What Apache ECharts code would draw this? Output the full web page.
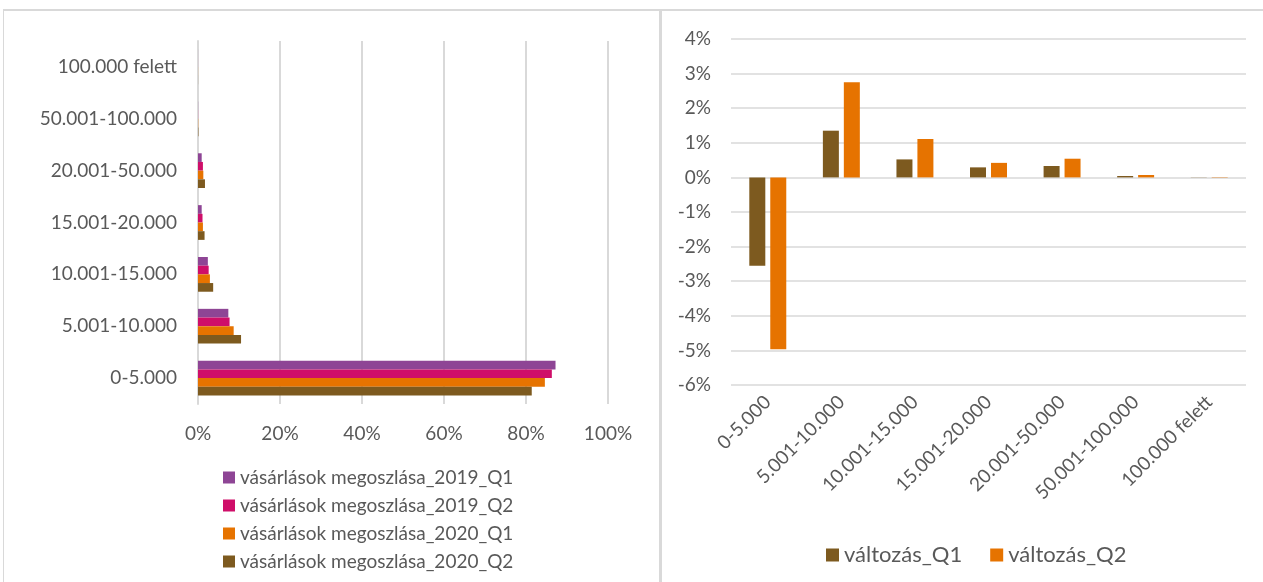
<!DOCTYPE html>
<html>
<head>
<meta charset="utf-8">
<script src="https://cdn.jsdelivr.net/npm/echarts@6/dist/echarts.min.js"></script>
<style>
  html, body { margin: 0; padding: 0; background: #fff; }
  #chart { width: 1263px; height: 582px; }
</style>
</head>
<body>
<div id="chart"></div>
<script>
// kategóriák (vásárlási érték sávok)
const categories = ['0-5.000', '5.001-10.000', '10.001-15.000', '15.001-20.000', '20.001-50.000', '50.001-100.000', '100.000 felett'];
// vásárlások megoszlása, %
const share2019Q1 = [87.2, 7.4, 2.4, 0.9, 0.9, 0.03, 0.01];
const share2019Q2 = [86.3, 7.7, 2.6, 1.1, 1.2, 0.03, 0.01];
const share2020Q1 = [84.6, 8.7, 2.9, 1.2, 1.3, 0.06, 0.02];
const share2020Q2 = [81.4, 10.5, 3.7, 1.6, 1.7, 0.1, 0.02];
// változás, százalékpont
const changeQ1 = [-2.55, 1.35, 0.52, 0.29, 0.33, 0.04, 0.005];
const changeQ2 = [-4.97, 2.75, 1.11, 0.42, 0.54, 0.07, 0.01];

const FONT = 'Lato';
const TXT = '#595959';
const GRID = '#d9d9d9';
const C_2019Q1 = '#8e4595', C_2019Q2 = '#cf0e69', C_2020Q1 = '#e67300', C_2020Q2 = '#7d5a1f';

const chart = echarts.init(document.getElementById('chart'));

// vízszintes oszlopoknál az első sorozat kerül felülre
const leftSeries = [
  { name: 'vásárlások megoszlása_2019_Q1', data: share2019Q1, color: C_2019Q1 },
  { name: 'vásárlások megoszlása_2019_Q2', data: share2019Q2, color: C_2019Q2 },
  { name: 'vásárlások megoszlása_2020_Q1', data: share2020Q1, color: C_2020Q1 },
  { name: 'vásárlások megoszlása_2020_Q2', data: share2020Q2, color: C_2020Q2 }
].map(s => ({
  type: 'bar', name: s.name, data: s.data,
  xAxisIndex: 0, yAxisIndex: 0,
  barGap: '0%', barCategoryGap: '33%',
  itemStyle: { color: s.color }
}));

const option = {
  animation: false,
  textStyle: { fontFamily: FONT },
  graphic: [
    { type: 'line', shape: { x1: 3, y1: 10, x2: 1263, y2: 10 }, style: { stroke: GRID, lineWidth: 2 } },
    { type: 'line', shape: { x1: 3.5, y1: 10, x2: 3.5, y2: 582 }, style: { stroke: GRID, lineWidth: 1 } },
    { type: 'line', shape: { x1: 660.5, y1: 10, x2: 660.5, y2: 582 }, style: { stroke: GRID, lineWidth: 3 } }
  ],
  grid: [
    { left: 198, right: 655, top: 41, bottom: 178 },
    { left: 731, right: 17, top: 39, bottom: 197 }
  ],
  legend: [
    {
      orient: 'vertical', left: 218, top: 463,
      itemWidth: 12, itemHeight: 12, itemGap: 9,
      icon: 'rect',
      textStyle: { color: TXT, fontSize: 19, fontFamily: FONT },
      data: ['vásárlások megoszlása_2019_Q1', 'vásárlások megoszlása_2019_Q2', 'vásárlások megoszlása_2020_Q1', 'vásárlások megoszlása_2020_Q2']
    },
    {
      orient: 'horizontal', left: 821, top: 539,
      itemWidth: 13, itemHeight: 13, itemGap: 28,
      icon: 'rect',
      textStyle: { color: TXT, fontSize: 22, fontFamily: FONT },
      data: ['változás_Q1', 'változás_Q2']
    }
  ],
  xAxis: [
    {
      gridIndex: 0, type: 'value', min: 0, max: 100, interval: 20,
      axisLine: { show: false }, axisTick: { show: false },
      splitLine: { lineStyle: { color: GRID, width: 2 } },
      axisLabel: { color: TXT, fontSize: 19, margin: 20, formatter: '{value}%' }
    },
    {
      gridIndex: 1, type: 'category', data: categories,
      axisLine: { show: false, onZero: false }, axisTick: { show: false },
      axisLabel: { color: TXT, fontSize: 19, rotate: 45, margin: 14, interval: 0 }
    }
  ],
  yAxis: [
    {
      gridIndex: 0, type: 'category', data: categories,
      axisLine: { show: true, lineStyle: { color: GRID, width: 2 } },
      axisTick: { show: false },
      axisLabel: { color: TXT, fontSize: 19, margin: 21 }
    },
    {
      gridIndex: 1, type: 'value', min: -6, max: 4, interval: 1,
      axisLine: { show: false }, axisTick: { show: false },
      splitLine: { lineStyle: { color: GRID, width: 1.5 } },
      axisLabel: { color: TXT, fontSize: 19, margin: 20, formatter: '{value}%' }
    }
  ],
  series: leftSeries.concat([
    {
      type: 'bar', name: 'változás_Q1', data: changeQ1,
      xAxisIndex: 1, yAxisIndex: 1,
      barWidth: 16, barGap: '31%',
      itemStyle: { color: C_2020Q2 }
    },
    {
      type: 'bar', name: 'változás_Q2', data: changeQ2,
      xAxisIndex: 1, yAxisIndex: 1,
      barWidth: 16, barGap: '31%',
      itemStyle: { color: C_2020Q1 }
    }
  ])
};

chart.setOption(option);
</script>
</body>
</html>
